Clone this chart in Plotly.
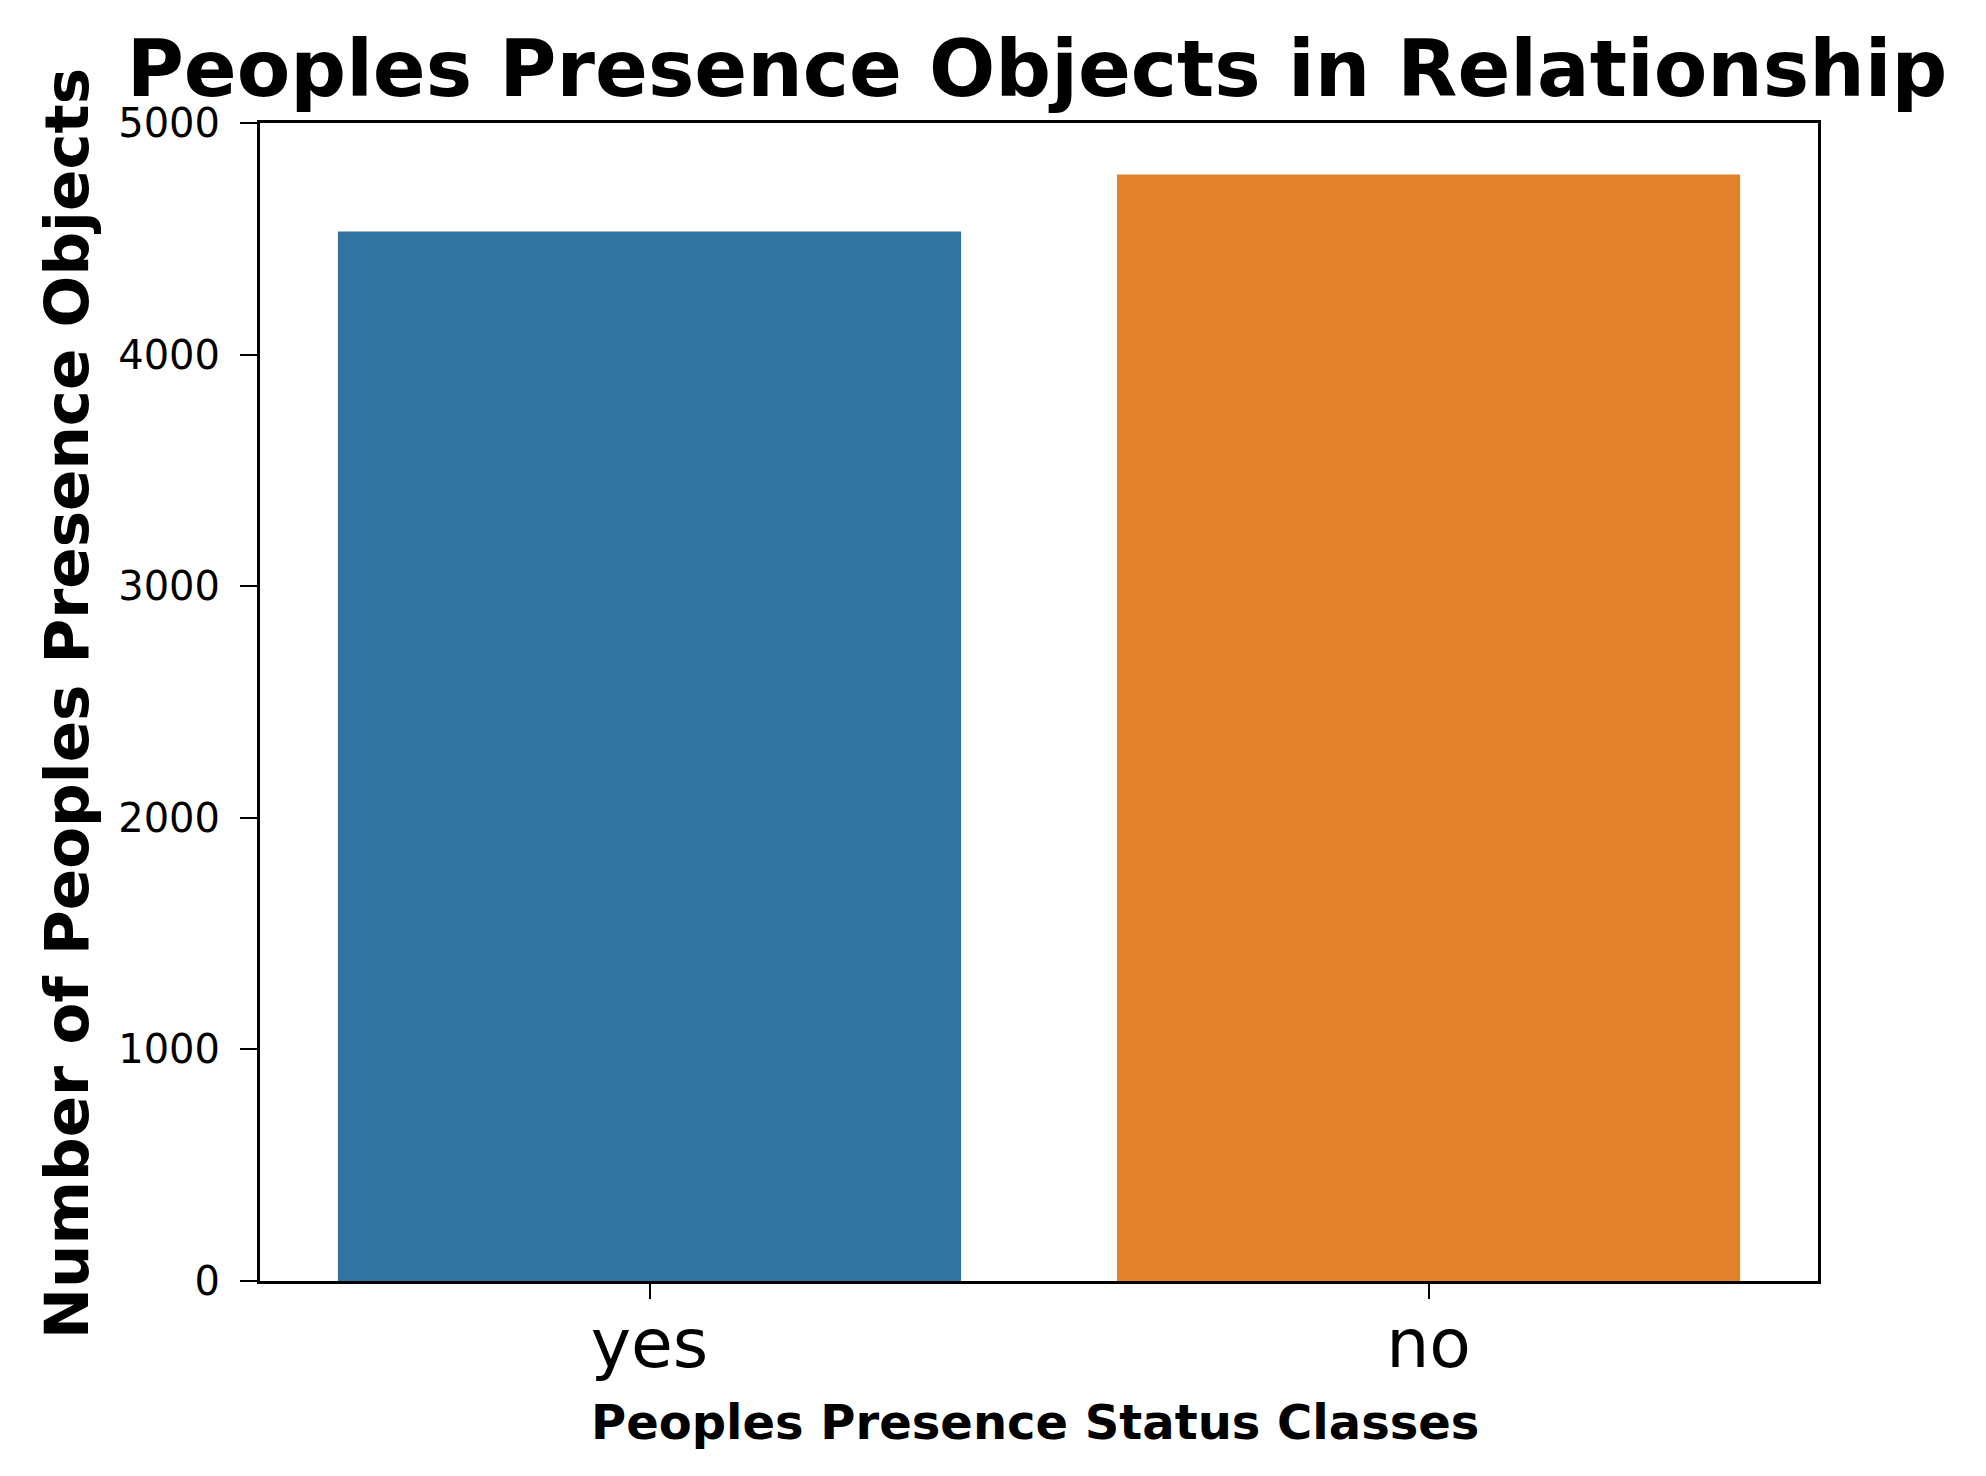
import plotly.graph_objects as go

categories = ["yes", "no"]
counts = [4532, 4778]
bar_colors = ["#3274a1", "#e1812c"]
y_tick_values = [0, 1000, 2000, 3000, 4000, 5000]

W, H = 1986, 1476
OFF = 8  # page body margin
L, R, T, B = 260 - OFF, 1818 - OFF, 123 - OFF, 1281 - OFF
FONT = "DejaVu Sans"

fig = go.Figure()
fig.add_trace(go.Bar(
    x=categories, y=counts, marker_color=bar_colors, marker_line_width=0,
    width=0.8, showlegend=False,
))

fig.update_layout(
    width=W, height=H,
    margin=dict(l=L, r=W - R, t=T, b=H - B, pad=0),
    paper_bgcolor="white", plot_bgcolor="white",
    font=dict(family=FONT, color="black"),
    title=dict(
        text="Peoples Presence Objects in Relationship",
        font=dict(family=FONT, size=78, weight="bold", color="black"),
        x=(1037 - OFF) / W, xanchor="center", xref="container",
        y=1 - (69 - OFF) / H, yanchor="middle",
    ),
)
fig.update_xaxes(
    range=[-0.5, 1.5], showline=True, linecolor="black", linewidth=3, mirror=True,
    ticks="outside", ticklen=15, tickwidth=2, tickcolor="black",
    tickfont=dict(family=FONT, size=68, color="black"), showgrid=False,
    ticklabelstandoff=-14,
)
fig.update_yaxes(
    range=[0, 5000], tickvals=y_tick_values, showline=True, linecolor="black",
    linewidth=3, mirror=True, ticks="outside", ticklen=17, tickwidth=2,
    tickcolor="black", tickfont=dict(family=FONT, size=40, color="black"),
    showgrid=False, zeroline=False, ticklabelstandoff=12,
)

plot_w, plot_h = R - L, B - T
fig.add_annotation(
    text="Peoples Presence Status Classes", xref="paper", yref="paper",
    x=(1035 - OFF - L) / plot_w, y=(B - (1422 - OFF)) / plot_h,
    xanchor="center", yanchor="middle",
    showarrow=False, font=dict(family=FONT, size=48, weight="bold", color="black"),
)
fig.add_annotation(
    text="Number of Peoples Presence Objects", xref="paper", yref="paper",
    x=(66 - OFF - L) / plot_w, y=(B - (704 - OFF)) / plot_h,
    xanchor="center", yanchor="middle",
    textangle=-90, showarrow=False,
    font=dict(family=FONT, size=61, weight="bold", color="black"),
)

fig.write_html("out.html")
